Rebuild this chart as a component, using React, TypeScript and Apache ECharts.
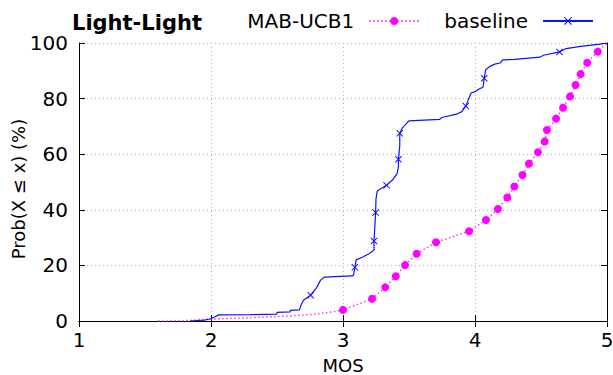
import React, { useEffect, useRef } from "react";
import * as echarts from "echarts";

const titleText = "Light-Light";
const xTicks = [1, 2, 3, 4, 5];
const yTicks = [0, 20, 40, 60, 80, 100];

// MAB-UCB1 CDF points [MOS, percent]
const mabPoints: [number, number][] = [
  [1.6, 0], [1.8, 0.1], [2.0, 0.7], [2.3, 1.2], [2.6, 1.8], [2.8, 2.5], [2.95, 3.5],
  [3.0, 4.0], [3.22, 8.0], [3.32, 12.1], [3.4, 16.1], [3.47, 20.1], [3.558, 24.2],
  [3.705, 28.3], [3.955, 32.3], [4.083, 36.3], [4.174, 40.3], [4.245, 44.4],
  [4.298, 48.4], [4.36, 52.5], [4.409, 56.6], [4.477, 60.7], [4.528, 64.6],
  [4.545, 68.7], [4.614, 72.8], [4.667, 76.7], [4.72, 80.8], [4.762, 84.9],
  [4.8, 88.8], [4.85, 92.9], [4.93, 96.9], [5.0, 100],
];
const mabMarkerIdx = [7, 8, 9, 10, 11, 12, 13, 14, 15, 16, 17, 18, 19, 20, 21, 22, 23, 24, 25, 26, 27, 28, 29, 30];

// baseline CDF points [MOS, percent]
const basePoints: [number, number][] = [
  [1.84, 0], [1.95, 0.3], [2.0, 0.8], [2.03, 1.5], [2.06, 2.2], [2.3, 2.3], [2.5, 2.5],
  [2.5, 3.1], [2.6, 3.3], [2.6, 3.8], [2.67, 4.0], [2.68, 5.5], [2.7, 7.5], [2.755, 9.3],
  [2.8, 12], [2.83, 14.7], [2.86, 15.8], [3.07, 16.2], [3.08, 16.5], [3.09, 19.3],
  [3.1, 22], [3.15, 23], [3.2, 24.3], [3.235, 25.5], [3.235, 28.8], [3.24, 33],
  [3.247, 39], [3.25, 44], [3.26, 46.8], [3.28, 47.4], [3.33, 48.8], [3.38, 51],
  [3.41, 53], [3.42, 55.5], [3.42, 58.2], [3.43, 63], [3.43, 67.5], [3.45, 69.5],
  [3.48, 71], [3.5, 72], [3.73, 72.5], [3.75, 73.2], [3.86, 74.4], [3.9, 75.3],
  [3.93, 77.3], [3.97, 82], [4.0, 82.5], [4.04, 83.7], [4.06, 84], [4.07, 87.3],
  [4.08, 90.3], [4.11, 91.5], [4.15, 92.4], [4.19, 92.8], [4.21, 93.9], [4.3, 94.1],
  [4.49, 94.9], [4.52, 95.6], [4.64, 96.8], [4.69, 98], [4.8, 98.8], [4.95, 99.6], [5.0, 100],
];
const baseMarkerIdx = [13, 19, 24, 26, 30, 34, 36, 44, 49, 58];

const CROSS = "path://M1,0L5,4L9,0L10,1L6,5L10,9L9,10L5,6L1,10L0,9L4,5L0,1Z";
const FONT = "DejaVu Sans";

function toItems(points: [number, number][], marked: number[]) {
  return points.map((p, i) => (marked.includes(i) ? { value: p } : { value: p, symbol: "none" }));
}

export default function App() {
  const ref = useRef<HTMLDivElement>(null);
  useEffect(() => {
    if (!ref.current) return;
    const chart = echarts.init(ref.current, undefined, { renderer: "svg" });
    const axisLine = { show: true, lineStyle: { color: "#000", width: 1 } };
    const tick = { show: true, inside: true, length: 6, lineStyle: { color: "#000" } };
    chart.setOption({
      animation: false,
      backgroundColor: "#fff",
      title: {
        text: titleText,
        left: 67,
        top: 7,
        textStyle: { fontFamily: FONT, fontWeight: "bold", fontSize: 21, color: "#000" },
      },
      legend: {
        right: 14,
        top: 6,
        align: "right",
        itemWidth: 50,
        itemHeight: 10,
        itemGap: 24,
        textStyle: { fontFamily: FONT, fontSize: 20, color: "#000", padding: [0, 10, 0, 0] },
        data: ["MAB-UCB1", "baseline"],
      },
      grid: { left: 79, right: 6, top: 43, bottom: 54, outerBoundsMode: "none", containLabel: false },
      xAxis: [
        {
          type: "value",
          min: xTicks[0],
          max: xTicks[xTicks.length - 1],
          interval: 1,
          name: "MOS",
          nameLocation: "middle",
          nameGap: 35,
          nameMoveOverlap: false,
          nameTextStyle: { fontFamily: FONT, fontSize: 18, color: "#000" },
          axisLine,
          axisTick: tick,
          axisLabel: { fontFamily: FONT, fontSize: 20, color: "#000", margin: 9 },
          splitLine: { show: true, lineStyle: { color: "#b0b0b0", type: [1, 3], width: 1 } },
        },
        {
          type: "value",
          position: "top",
          min: xTicks[0],
          max: xTicks[xTicks.length - 1],
          interval: 1,
          axisLine,
          axisTick: tick,
          axisLabel: { show: false },
          splitLine: { show: false },
        },
      ],
      yAxis: [
        {
          type: "value",
          min: yTicks[0],
          max: yTicks[yTicks.length - 1],
          interval: 20,
          name: "Prob(X ≤ x) (%)",
          nameLocation: "middle",
          nameGap: 52,
          nameMoveOverlap: false,
          nameTextStyle: { fontFamily: FONT, fontSize: 18, color: "#000", padding: [0, 14, 0, 0] },
          axisLine,
          axisTick: tick,
          axisLabel: { fontFamily: FONT, fontSize: 20, color: "#000", margin: 11 },
          splitLine: { show: true, lineStyle: { color: "#b0b0b0", type: [1, 3], width: 1 } },
        },
        {
          type: "value",
          position: "right",
          min: yTicks[0],
          max: yTicks[yTicks.length - 1],
          interval: 20,
          axisLine,
          axisTick: tick,
          axisLabel: { show: false },
          splitLine: { show: false },
        },
      ],
      series: [
        {
          name: "MAB-UCB1",
          type: "line",
          data: toItems(mabPoints, mabMarkerIdx),
          symbol: "circle",
          symbolSize: 8,
          showSymbol: true,
          itemStyle: { color: "#ff00ff" },
          lineStyle: { color: "#ff33ff", width: 1.5, type: [1.5, 2.5] },
          z: 3,
        },
        {
          name: "baseline",
          type: "line",
          data: toItems(basePoints, baseMarkerIdx),
          symbol: CROSS,
          symbolSize: 7,
          showSymbol: true,
          itemStyle: { color: "#1010ff" },
          lineStyle: { color: "#1010ff", width: 1.2 },
          z: 4,
        },
      ],
    });
    return () => chart.dispose();
  }, []);
  return <div ref={ref} style={{ width: 613, height: 375, position: "absolute", left: 0, top: 0 }} />;
}
